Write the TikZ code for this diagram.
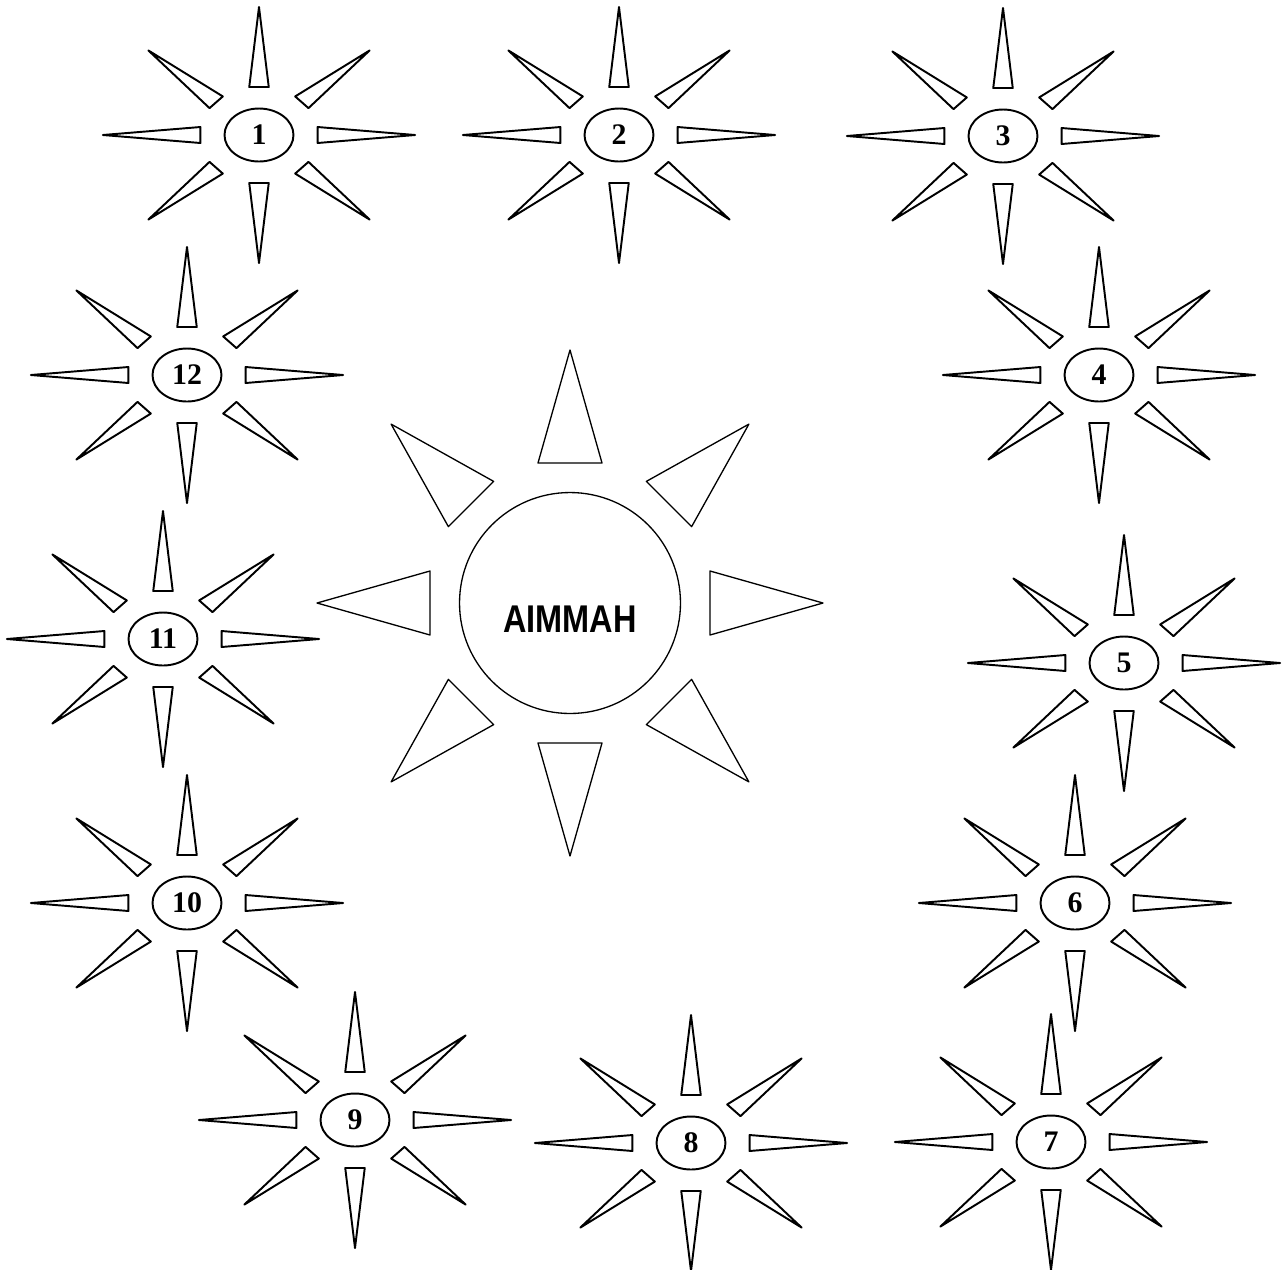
\documentclass[tikz,border=0pt]{standalone}
\usepackage{fontspec}
\setmainfont{Liberation Serif}
\setsansfont{Liberation Sans}
\usepackage{graphicx}
\usetikzlibrary{shapes.geometric}

\begin{document}
\begin{tikzpicture}[
        x=0.02cm, y=-0.02cm,
        badge/.style={ellipse, draw=black, line width=1.1pt, minimum width=1.38cm,
                      minimum height=1.06cm, inner sep=0pt,
                      font=\fontsize{17}{17}\selectfont\bfseries},
        ray/.style={draw=black, line width=1.1pt, line join=round},
        core/.style={circle, draw=black, line width=0.75pt, minimum size=4.42cm, inner sep=0pt},
        bigray/.style={draw=black, line width=0.75pt, line join=round},
        title/.style={font=\sffamily\bfseries\fontsize{22}{22}\selectfont, inner sep=0pt}
    ]
    \useasboundingbox (0,0) rectangle (1285,1269);

    % Central sun
    \node[core] (core) at (570,603) {};
    \node[title] (coretext) at ([yshift=-0.32cm]core.center) {\scalebox{0.84}[1]{AIMMAH}};
    \begin{scope}[shift={(core.center)}]
        \foreach \ang in {0,45,...,315}
            \draw[bigray] (\ang:253) -- ({\ang+12.88}:143.6) -- ({\ang-12.88}:143.6) -- cycle;
    \end{scope}

    % Ring of twelve small suns
    \foreach \n/\cx/\cy in {1/259/135, 2/619/135, 3/1003/136, 4/1099/375,
                            5/1124/663, 6/1075/903, 7/1051/1142, 8/691/1143,
                            9/355/1120, 10/187/903, 11/163/639, 12/187/375} {
        \node[badge] (sun\n) at (\cx,\cy) {\n};
        \begin{scope}[shift={(sun\n.center)}, xscale=1.22]
            \foreach \ang/\len in {0/128, 43/124, 90/128, 137/124,
                                   180/128, 223/124, 270/128, 317/124}
                \draw[ray] (\ang:\len) -- ({\ang+9.46}:48.66) -- ({\ang-9.46}:48.66) -- cycle;
        \end{scope}
    }

\end{tikzpicture}
\end{document}
